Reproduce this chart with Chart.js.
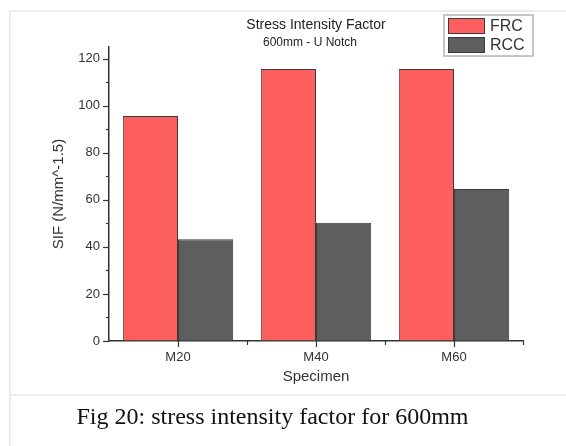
<!DOCTYPE html>
<html>
<head>
<meta charset="utf-8">
<script src="https://cdn.jsdelivr.net/npm/chart.js@4/dist/chart.umd.min.js"></script>
<style>
    body { margin: 0; background: #fff; }
    #wrap { position: relative; width: 566px; height: 446px; overflow: hidden; }
    #sifChart { position: absolute; left: 0; top: 0; }
    .line { position: absolute; background: #ececec; }
    #caption {
        position: absolute; left: 9px; right: 0; top: 403px;
        font-family: "Liberation Serif", "Times New Roman", serif;
        font-size: 24px; color: #111; text-align: center; padding-right: 30px;
    }
</style>
</head>
<body>
<div id="wrap">
    <canvas id="sifChart" width="566" height="394"></canvas>
    <div class="line" style="left:9px; top:10px; width:557px; height:2px;"></div>
    <div class="line" style="left:9px; top:10px; width:2px; height:436px;"></div>
    <div class="line" style="left:9px; top:394px; width:557px; height:2px;"></div>
    <div id="caption">Fig 20: stress intensity factor for 600mm</div>
</div>
<script>
const specimens = ['M20', 'M40', 'M60'];
const frcValues = [95.7, 115.6, 115.6];
const rccValues = [43.3, 50.3, 64.6];
const yTicks = [0, 20, 40, 60, 80, 100, 120];
const yMinorTicks = [10, 30, 50, 70, 90, 110];

const FONT = '"Liberation Sans", Arial, sans-serif';

// ticks, title, subtitle and legend box (Origin style)
const originExtras = {
    id: 'originExtras',
    afterDraw(chart) {
        const ctx = chart.ctx;
        const area = chart.chartArea;
        const xs = chart.scales.x;
        const ys = chart.scales.y;
        const cx = (area.left + area.right) / 2;

        const tick = (x1, y1, x2, y2) => {
            ctx.beginPath();
            ctx.moveTo(x1, y1);
            ctx.lineTo(x2, y2);
            ctx.stroke();
        };

        ctx.save();
        ctx.strokeStyle = '#333';
        ctx.lineWidth = 1.2;
        // x ticks: major at categories, minor between them
        specimens.forEach((s, i) => {
            const px = Math.round(xs.getPixelForValue(i)) + 0.5;
            tick(px, area.bottom, px, area.bottom + 6);
            const mx = Math.round((xs.getPixelForValue(i) + xs.getPixelForValue(i + 1)) / 2) + 0.5;
            tick(mx, area.bottom, mx, area.bottom + 4);
        });
        // y ticks
        yTicks.forEach(v => {
            const py = Math.round(ys.getPixelForValue(v)) + 0.5;
            tick(area.left, py, area.left - 6, py);
        });
        yMinorTicks.forEach(v => {
            const py = Math.round(ys.getPixelForValue(v)) + 0.5;
            tick(area.left, py, area.left - 3, py);
        });

        // titles
        ctx.fillStyle = '#222';
        ctx.textAlign = 'center';
        ctx.textBaseline = 'middle';
        ctx.font = '14px ' + FONT;
        ctx.fillText('Stress Intensity Factor', cx, 25);
        ctx.font = '12px ' + FONT;
        ctx.fillText('600mm - U Notch', cx - 6, 43);

        // legend box
        ctx.fillStyle = '#fff';
        ctx.fillRect(444, 15, 89, 41);
        ctx.strokeStyle = '#b4b4b4';
        ctx.lineWidth = 1.5;
        ctx.strokeRect(444, 15, 89, 41);
        chart.data.datasets.forEach((ds, i) => {
            const y = 18 + i * 19;
            ctx.fillStyle = ds.backgroundColor;
            ctx.fillRect(448, y, 37, 16);
            ctx.strokeStyle = '#3a3a3a';
            ctx.lineWidth = 1;
            ctx.strokeRect(448.5, y + 0.5, 36, 15);
            ctx.fillStyle = '#333';
            ctx.textAlign = 'left';
            ctx.font = '16px ' + FONT;
            ctx.fillText(ds.label, 490, y + 8.5);
        });
        ctx.restore();
    }
};

const ctx = document.getElementById('sifChart').getContext('2d');
const myChart = new Chart(ctx, {
    type: 'bar',
    data: {
        labels: specimens,
        datasets: [
            {
                label: 'FRC',
                data: frcValues,
                backgroundColor: '#fd5e5e',
                borderColor: '#3a3a3a',
                borderWidth: 1
            },
            {
                label: 'RCC',
                data: rccValues,
                backgroundColor: '#5e5e5e',
                borderColor: '#3a3a3a',
                borderWidth: 1
            }
        ]
    },
    options: {
        responsive: false,
        animation: false,
        devicePixelRatio: 1,
        layout: { padding: { top: 47, right: 43, left: 0, bottom: 0 } },
        datasets: {
            bar: { categoryPercentage: 0.8, barPercentage: 1.0 }
        },
        plugins: {
            legend: { display: false },
            title: { display: false },
            tooltip: { enabled: false }
        },
        scales: {
            x: {
                afterFit: scale => { scale.height = 53; },
                grid: {
                    display: true,
                    drawOnChartArea: false,
                    tickLength: 6,
                    tickColor: 'rgba(0,0,0,0)'
                },
                border: { color: '#333', width: 1.5 },
                ticks: {
                    color: '#333',
                    font: { family: FONT, size: 13 },
                    padding: 3
                },
                title: {
                    display: true,
                    text: 'Specimen',
                    color: '#333',
                    font: { family: FONT, size: 15 },
                    padding: { top: 0, bottom: 8 }
                }
            },
            y: {
                min: 0,
                max: 125,
                afterFit: scale => { scale.width = 109; },
                afterBuildTicks: scale => {
                    scale.ticks = yTicks.map(v => ({ value: v }));
                },
                grid: {
                    display: true,
                    drawOnChartArea: false,
                    tickLength: 5,
                    tickColor: 'rgba(0,0,0,0)'
                },
                border: { color: '#333', width: 1.5 },
                ticks: {
                    color: '#333',
                    font: { family: FONT, size: 13 },
                    padding: 4
                },
                title: {
                    display: true,
                    text: 'SIF (N/mm^-1.5)',
                    color: '#333',
                    font: { family: FONT, size: 15 },
                    padding: { top: 50, bottom: 0 }
                }
            }
        }
    },
    plugins: [originExtras]
});
</script>
</body>
</html>
